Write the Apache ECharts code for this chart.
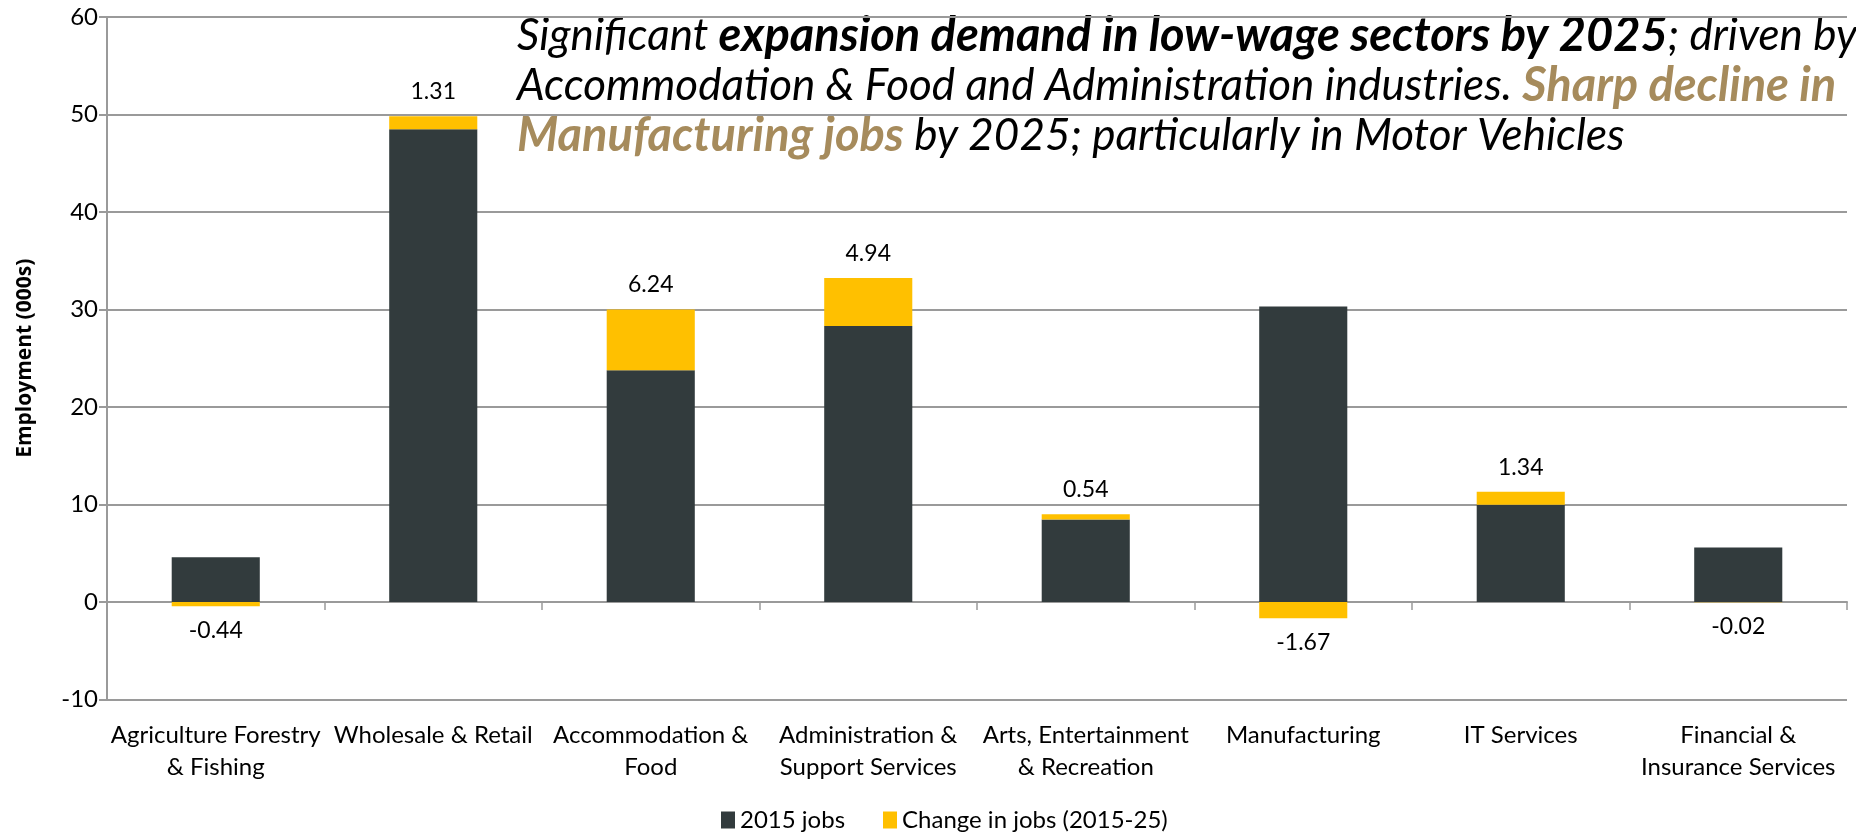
<!DOCTYPE html>
<html>
<head>
<meta charset="utf-8">
<script src="https://cdn.jsdelivr.net/npm/echarts@6/dist/echarts.min.js"></script>
<style>
  html, body { margin: 0; padding: 0; background: #ffffff; }
  #chart { width: 1856px; height: 836px; }
</style>
</head>
<body>
<div id="chart"></div>
<script>
// Sectors shown along the category axis
const categories = [
  'Agriculture Forestry\n& Fishing',
  'Wholesale & Retail',
  'Accommodation &\nFood',
  'Administration &\nSupport Services',
  'Arts, Entertainment\n& Recreation',
  'Manufacturing',
  'IT Services',
  'Financial &\nInsurance Services'
];

// Employment in 2015 (000s)
const jobs2015 = [4.6, 48.5, 23.76, 28.3, 8.45, 30.3, 9.98, 5.6];

// Change in jobs 2015-25 (000s)
const jobsChange = [-0.44, 1.31, 6.24, 4.94, 0.54, -1.67, 1.34, -0.02];

// Value axis ticks
const yMin = -10;
const yMax = 60;
const yStep = 10;

const FONT = 'Lato';
const DARK = '#323b3d';
const GOLD = '#ffc000';
const TAN = '#a68b5c';
const GRID_GRAY = '#9a9a9a';

const GRID_LEFT = 107;
const GRID_TOP = 17;
const GRID_BOTTOM = 136.5;

const chart = echarts.init(document.getElementById('chart'));

const changeData = jobsChange.map(v => ({
  value: v,
  label: { position: v < 0 ? 'bottom' : 'top' }
}));

const option = {
  animation: false,
  backgroundColor: '#ffffff',
  textStyle: { fontFamily: FONT },
  grid: { left: GRID_LEFT, right: 9, top: GRID_TOP, bottom: GRID_BOTTOM, containLabel: false },
  legend: {
    left: 716,
    top: 803,
    itemWidth: 14,
    itemHeight: 17,
    itemGap: 38,
    icon: 'rect',
    textStyle: { fontFamily: FONT, fontSize: 24, color: '#000000' },
    data: ['2015 jobs', 'Change in jobs (2015-25)']
  },
  xAxis: [
    {
      // baseline at zero with boundary ticks
      type: 'category',
      data: categories,
      position: 'bottom',
      axisLine: { onZero: true, lineStyle: { color: GRID_GRAY, width: 2 } },
      axisTick: { show: true, alignWithLabel: false, length: 8, lineStyle: { color: GRID_GRAY, width: 1.5 } },
      axisLabel: { show: false },
      splitLine: { show: false }
    },
    {
      // category names under the plot
      type: 'category',
      data: categories,
      position: 'bottom',
      axisLine: { show: false, onZero: false },
      axisTick: { show: false },
      axisLabel: {
        show: true,
        interval: 0,
        margin: 20,
        fontFamily: FONT,
        fontSize: 24,
        lineHeight: 32,
        color: '#000000'
      },
      splitLine: { show: false }
    }
  ],
  yAxis: {
    type: 'value',
    min: yMin,
    max: yMax,
    interval: yStep,
    axisLine: { show: true, lineStyle: { color: GRID_GRAY, width: 2 } },
    axisTick: { show: true, length: 8, lineStyle: { color: GRID_GRAY, width: 2 } },
    axisLabel: { fontFamily: FONT, fontSize: 24, color: '#000000', margin: 9 },
    splitLine: { show: true, lineStyle: { color: GRID_GRAY, width: 2 } }
  },
  series: [
    {
      name: '2015 jobs',
      type: 'bar',
      stack: 'jobs',
      xAxisIndex: 0,
      barWidth: '40.5%',
      itemStyle: { color: DARK },
      data: jobs2015
    },
    {
      name: 'Change in jobs (2015-25)',
      type: 'bar',
      stack: 'jobs',
      xAxisIndex: 0,
      barWidth: '40.5%',
      itemStyle: { color: GOLD },
      label: {
        show: true,
        distance: 13,
        fontFamily: FONT,
        fontSize: 23,
        color: '#000000',
        formatter: p => p.value.toFixed(2)
      },
      data: changeData
    }
  ],
  graphic: [
    {
      // value axis title, reading bottom to top
      type: 'text',
      x: 25,
      y: (GRID_TOP + (836 - GRID_BOTTOM)) / 2,
      rotation: Math.PI / 2,
      silent: true,
      style: {
        text: '{n|Employment (000s)}',
        align: 'center',
        verticalAlign: 'middle',
        rich: {
          n: {
            fontFamily: 'Open Sans',
            fontWeight: 'bold',
            fontSize: 21,
            lineHeight: 24,
            fill: '#000000'
          }
        }
      }
    },
    {
      type: 'text',
      left: 517,
      top: 12,
      silent: true,
      style: {
        text:
          '{i|Significant }{b|expansion demand in low-wage sectors by 2025}{i|; driven by}\n' +
          '{i|Accommodation & Food and Administration industries. }{t|Sharp decline in}\n' +
          '{t|Manufacturing jobs}{i| by 2025; particularly in Motor Vehicles}',
        rich: {
          i: { fontFamily: FONT, fontStyle: 'italic', fontSize: 44, lineHeight: 50, fill: '#000000' },
          b: { fontFamily: FONT, fontStyle: 'italic', fontWeight: 'bold', fontSize: 47, lineHeight: 50, fill: '#000000' },
          t: { fontFamily: FONT, fontStyle: 'italic', fontWeight: 'bold', fontSize: 47, lineHeight: 50, fill: TAN }
        }
      }
    }
  ]
};

chart.setOption(option);
</script>
</body>
</html>
